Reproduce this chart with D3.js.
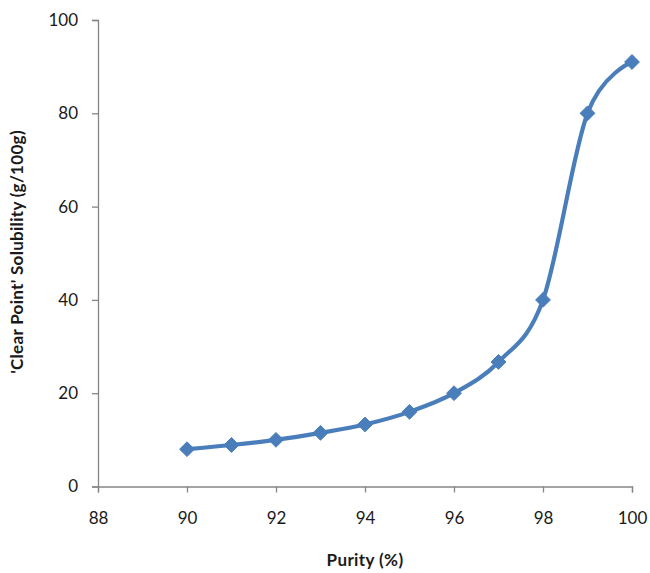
<!DOCTYPE html>
<html>
<head>
<meta charset="utf-8">
<script src="https://cdn.jsdelivr.net/npm/d3@7"></script>
<style>
  html, body { margin: 0; padding: 0; background: #fff; }
  svg { display: block; }
</style>
</head>
<body>
<script>
const purity = [90, 91, 92, 93, 94, 95, 96, 97, 98, 99, 100];
const solubility = [8.0, 8.9, 10.0, 11.5, 13.3, 16.0, 20.0, 26.7, 40.0, 80.0, 91.0];
const xTicks = [88, 90, 92, 94, 96, 98, 100];
const yTicks = [0, 20, 40, 60, 80, 100];
const xTitle = "Purity (%)";
const yTitle = "'Clear Point' Solubility (g/100g)";

(function () {
const W = 650, H = 573;
const mLeft = 98, mRight = 632, mTop = 20, mBottom = 486.5;

const svg = d3.select("body").append("svg").attr("width", W).attr("height", H);

const x = d3.scaleLinear().domain([88, 100]).range([mLeft, mRight]);
const y = d3.scaleLinear().domain([0, 100]).range([mBottom, mTop]);

const font = "Lato, 'Open Sans', sans-serif";
const axisColor = "#868686";

const yAxis = svg.append("g").attr("transform", `translate(${mLeft},0)`)
  .call(d3.axisLeft(y).tickValues(yTicks).tickSize(6).tickPadding(14).tickFormat(d3.format("d")));
const xAxis = svg.append("g").attr("transform", `translate(0,${mBottom})`)
  .call(d3.axisBottom(x).tickValues(xTicks).tickSize(6).tickPadding(19).tickFormat(d3.format("d")));

[yAxis, xAxis].forEach(g => {
  g.select(".domain").attr("stroke", axisColor).attr("stroke-width", 1.3);
  g.selectAll(".tick line").attr("stroke", axisColor).attr("stroke-width", 1.3);
  g.selectAll(".tick text").attr("fill", "#1a1a1a").style("font-family", font).style("font-size", "17px");
});

const line = d3.line()
  .x((d, i) => x(purity[i]))
  .y(d => y(d))
  .curve(d3.curveCardinal.tension(0));

svg.append("path")
  .datum(solubility)
  .attr("fill", "none")
  .attr("stroke", "#4a7ebb")
  .attr("stroke-width", 4.2)
  .attr("stroke-linejoin", "round")
  .attr("d", line);

const diamond = d3.symbol().type(d3.symbolDiamond2).size(140);
svg.append("g").selectAll("path.m")
  .data(solubility)
  .join("path")
  .attr("class", "m")
  .attr("transform", (d, i) => `translate(${x(purity[i])},${y(d)})`)
  .attr("d", diamond)
  .attr("fill", "#4a7ebb")
  .attr("stroke", "#4a7ebb")
  .attr("stroke-width", 1);

svg.append("text")
  .attr("x", (mLeft + mRight) / 2)
  .attr("y", 562)
  .attr("text-anchor", "middle")
  .attr("dominant-baseline", "middle")
  .style("font-family", font)
  .style("font-weight", "bold")
  .style("font-size", "17px")
  .style("letter-spacing", "0.4px")
  .attr("fill", "#1a1a1a")
  .text(xTitle);

svg.append("text")
  .attr("transform", `translate(19,252) rotate(-90)`)
  .attr("text-anchor", "middle")
  .attr("dominant-baseline", "middle")
  .style("font-family", font)
  .style("font-weight", "bold")
  .style("font-size", "17px")
  .style("letter-spacing", "0.3px")
  .attr("fill", "#1a1a1a")
  .text(yTitle);
})();
</script>
</body>
</html>
